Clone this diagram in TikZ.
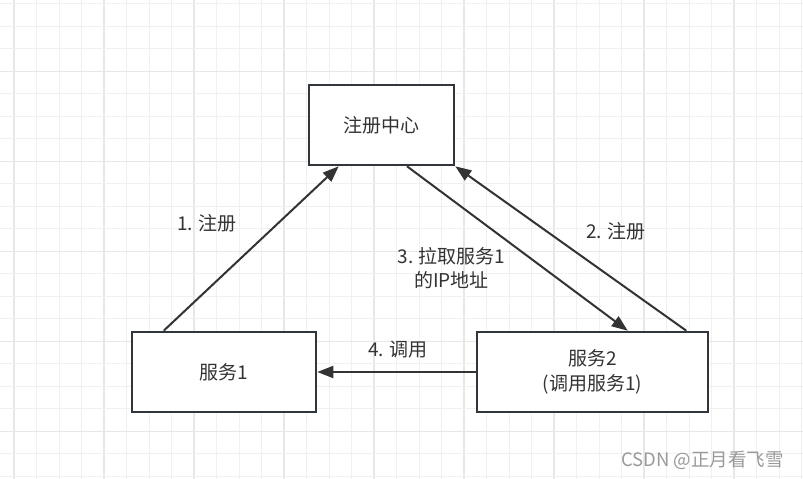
\documentclass[tikz,border=0pt]{standalone}
\usepackage{fontspec}
\setmainfont{Noto Sans CJK SC}
\usetikzlibrary{arrows.meta,calc}
\definecolor{gridminor}{HTML}{F0F0F0}
\definecolor{gridmajor}{HTML}{E7E7E7}
\definecolor{boxline}{HTML}{30363C}
\definecolor{txt}{HTML}{333333}
\definecolor{wm}{HTML}{9A9A9A}
\tikzset{
  box/.style={draw=boxline, line width=2.6pt, fill=white, inner sep=0pt, align=center,
    text=txt, font=\fontsize{19}{25}\selectfont},
  conn/.style={draw=txt, line width=2pt, -{Triangle[length=16pt,width=12pt]}},
  lbl/.style={text=txt, font=\fontsize{19}{24}\selectfont, align=center, inner sep=0pt},
}
\begin{document}
\begin{tikzpicture}[x=1pt,y=-1pt]
\fill[white] (0,0) rectangle (803,479);
\useasboundingbox (0,0) rectangle (803,479);
% grid
\foreach \k in {0,...,35}{
  \pgfmathsetmacro{\xx}{14+22.5*\k}
  \pgfmathtruncatemacro{\m}{mod(\k,4)}
  \ifnum\m=0
    \draw[gridmajor, line width=1.3pt] (\xx,0) -- (\xx,479);
  \else
    \draw[gridminor, line width=1pt] (\xx,0) -- (\xx,479);
  \fi
}
\foreach \k in {0,...,21}{
  \pgfmathsetmacro{\yy}{3.8+22.5*\k}
  \pgfmathtruncatemacro{\m}{mod(\k+1,4)}
  \ifnum\m=0
    \draw[gridmajor, line width=1.3pt] (0,\yy) -- (803,\yy);
  \else
    \draw[gridminor, line width=1pt] (0,\yy) -- (803,\yy);
  \fi
}
% boxes
\node[box, minimum width=145pt, minimum height=80pt] (reg) at (381.5,125) {注册中心};
\node[box, minimum width=184pt, minimum height=80pt] (s1) at (224,372) {服务1};
\node[box, minimum width=231pt, minimum height=80pt] (s2) at (592.5,372) {服务2\\(调用服务1)};
% connectors
\draw[conn] ($(s1.north west)+(33,0)$) -- ($(reg.south west)+(31,0)$);
\draw[conn] ($(reg.south)+(25.5,0)$) -- ($(s2.north west)+(152,0)$);
\draw[conn] ($(s2.north east)+(-23,0)$) -- (reg.south east);
\draw[conn] (s2.west) -- (s1.east);
% labels
\node[lbl] (l1) at (207,223) {1. 注册};
\node[lbl] (l2) at (616,231) {2. 注册};
\node[lbl] (l3) at (451.5,268) {3. 拉取服务1\\的IP地址};
\node[lbl] (l4) at (398,350) {4. 调用};
\node[text=wm, font=\fontsize{18.5}{20}\selectfont, inner sep=0pt] (wmk) at (702.5,460.5) {CSDN @正月看飞雪};
\end{tikzpicture}
\end{document}
